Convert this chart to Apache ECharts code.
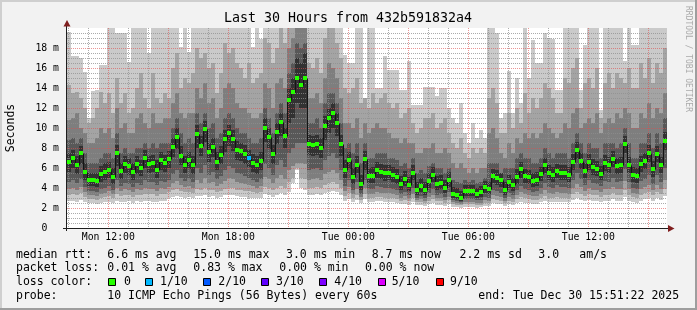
<!DOCTYPE html>
<html><head><meta charset="utf-8">
<script src="https://cdn.jsdelivr.net/npm/echarts@6/dist/echarts.min.js"></script>
<style>html,body{margin:0;padding:0;background:#f2f2f2}#c{width:697px;height:310px}</style>
</head><body><div id="c"></div>
<script>
// time axis: hours since Mon 00:00; one column = 12 minutes
const START_HOUR = 9.935;
const STEP_HOURS = 0.2;
const xTickHours = [12, 18, 24, 30, 36];
const xTickLabels = ['Mon 12:00', 'Mon 18:00', 'Tue 00:00', 'Tue 06:00', 'Tue 12:00'];

// median rtt per column (ms)
const median = [
6.6,7.0,6.3,7.5,5.6,4.8,4.8,4.7,5.4,5.6,
5.8,5.1,7.5,5.7,6.4,6.2,5.6,6.4,6.0,7.0,
6.4,6.5,5.8,6.8,6.5,6.9,8.1,9.1,7.2,6.3,
6.8,6.3,9.4,8.2,9.9,7.6,8.1,6.6,7.3,8.9,
9.5,8.9,7.8,7.7,7.4,7.0,6.5,6.3,6.7,10.0,
9.1,7.4,9.6,10.6,9.2,12.8,13.6,15.0,14.3,15.0,
8.4,8.3,8.4,8.0,10.2,11.0,11.5,10.5,8.4,5.8,
6.8,5.1,6.3,4.4,6.9,5.2,5.2,5.8,5.6,5.5,
5.5,5.3,5.1,4.4,4.9,4.3,5.5,3.8,4.2,3.8,
4.7,5.3,4.4,4.5,4.0,4.8,3.4,3.3,3.0,3.7,
3.7,3.7,3.4,3.6,4.1,3.9,5.2,5.0,4.8,3.8,
4.6,4.3,5.1,5.9,5.2,5.1,4.7,4.8,5.4,6.3,
5.5,5.3,5.7,5.5,5.5,5.3,6.6,7.8,6.7,5.7,
6.6,6.1,5.9,5.4,6.5,6.3,6.9,6.2,6.3,8.4,
6.3,5.3,5.2,6.4,6.7,7.5,5.9,7.4,6.3,8.7];

// lost pings (of 10) per column
const lossCount = [
0,0,0,0,0,0,0,0,0,0, 0,0,0,0,0,0,0,0,0,0, 0,0,0,0,0,0,0,0,0,0,
0,0,0,0,0,0,0,0,0,0, 0,0,0,0,0,1,0,0,0,0, 0,0,0,0,0,0,0,0,0,0,
0,0,0,0,0,0,0,0,0,0, 0,0,0,0,0,0,0,0,0,0, 0,0,0,0,0,0,0,0,0,0,
0,0,0,0,0,0,0,0,0,0, 0,0,0,0,0,0,0,0,0,0, 0,0,0,0,0,0,0,0,0,0,
0,0,0,0,0,0,0,0,0,0, 0,0,0,0,0,0,0,0,0,0, 0,0,0,0,0,0,0,0,0,0];

// sorted ping ranks (smoke): p1 lowest ... p10 highest
const p1 = [
2.7,2.7,2.6,2.8,2.6,2.5,2.5,2.4,2.5,2.6,2.6,2.5,2.7,2.6,2.6,2.7,2.5,2.7,2.6,2.7,2.7,2.6,2.6,2.7,2.7,
3.0,3.1,3.2,3.1,3.0,3.1,3.0,3.2,3.2,3.3,3.1,3.2,3.0,3.1,3.3,3.3,3.3,3.2,3.1,3.1,3.0,3.0,3.0,3.0,3.4,
3.3,3.1,3.3,3.5,3.3,3.6,4.5,5.8,4.0,3.8,3.3,3.3,3.4,3.3,3.5,3.6,3.7,3.6,3.3,2.7,2.9,2.6,2.8,2.5,2.9,
2.6,2.6,2.7,2.7,2.6,2.6,2.6,2.5,2.4,2.4,2.3,2.6,2.3,2.3,2.2,2.4,2.5,2.3,2.3,2.2,2.4,2.1,2.1,2.0,2.1,
2.1,2.1,2.0,2.1,2.2,2.2,2.5,2.4,2.4,2.2,2.4,2.3,2.5,2.6,2.5,2.5,2.4,2.4,2.6,2.7,2.6,2.6,2.6,2.6,2.6,
2.6,2.8,3.0,2.8,2.7,2.8,2.7,2.7,2.6,2.7,2.7,2.9,2.7,2.7,3.1,2.7,2.6,2.5,2.7,2.9,3.0,2.7,3.0,2.8,3.2];
const p2 = [
3.3,3.4,3.3,3.5,3.1,2.9,2.9,2.8,3.0,3.1,3.2,3.0,3.4,3.2,3.3,3.3,3.1,3.3,3.3,3.4,3.4,3.4,3.2,3.4,3.4,
3.6,3.8,3.9,3.7,3.6,3.6,3.5,3.9,3.8,4.0,3.8,3.8,3.6,3.7,3.9,4.0,4.0,3.8,3.8,3.7,3.7,3.6,3.5,3.6,4.1,
4.0,3.8,4.0,4.2,4.0,4.6,5.0,6.0,5.0,4.9,4.0,4.0,4.1,4.0,4.3,4.5,4.6,4.4,4.0,3.2,3.5,3.0,3.3,2.8,3.4,
3.0,3.0,3.1,3.1,3.0,3.0,3.0,2.9,2.7,2.8,2.7,3.0,2.6,2.6,2.5,2.7,2.9,2.7,2.7,2.5,2.8,2.4,2.3,2.3,2.4,
2.4,2.4,2.3,2.3,2.5,2.5,2.9,2.8,2.7,2.5,2.7,2.6,2.9,3.1,3.0,2.9,2.8,2.8,3.0,3.2,3.0,3.0,3.1,3.0,3.0,
3.0,3.4,3.6,3.4,3.2,3.4,3.3,3.3,3.1,3.3,3.3,3.5,3.3,3.3,3.8,3.3,3.1,3.0,3.3,3.5,3.6,3.3,3.6,3.4,3.9];
const p3 = [
3.9,4.0,3.8,4.1,3.6,3.3,3.3,3.2,3.4,3.5,3.7,3.4,4.0,3.7,3.9,3.8,3.6,3.9,3.8,4.0,3.9,3.9,3.7,4.0,3.9,
4.1,4.5,4.7,4.3,4.1,4.2,4.0,4.8,4.5,5.0,4.5,4.6,4.2,4.4,4.7,5.0,4.9,4.6,4.5,4.4,4.3,4.2,4.0,4.2,5.1,
4.9,4.5,5.0,5.3,4.9,5.8,6.2,6.5,6.5,6.4,4.8,4.9,5.0,4.8,5.4,5.6,5.8,5.5,4.8,3.7,4.1,3.4,3.9,3.1,4.0,
3.4,3.4,3.6,3.5,3.5,3.5,3.4,3.3,3.0,3.2,3.0,3.4,2.8,2.9,2.7,3.1,3.3,3.0,3.0,2.8,3.1,2.6,2.5,2.4,2.6,
2.6,2.6,2.5,2.5,2.8,2.7,3.3,3.2,3.1,2.7,3.1,2.9,3.3,3.6,3.4,3.3,3.2,3.2,3.4,3.8,3.5,3.4,3.6,3.5,3.5,
3.4,4.0,4.4,4.1,3.7,4.0,3.8,3.8,3.6,3.9,3.9,4.1,3.9,3.9,4.7,3.9,3.5,3.4,3.9,4.1,4.3,3.8,4.3,3.9,4.8];
const p4 = [
4.6,4.8,4.5,4.9,4.1,3.7,3.7,3.6,3.9,4.0,4.2,3.8,4.8,4.2,4.5,4.4,4.1,4.5,4.3,4.8,4.6,4.6,4.3,4.7,4.6,
4.8,5.4,5.8,5.0,4.7,4.9,4.6,6.0,5.5,6.3,5.3,5.6,4.9,5.2,5.8,6.2,6.0,5.5,5.4,5.2,5.0,4.8,4.6,4.9,6.4,
6.0,5.3,6.3,6.8,6.1,7.5,8.0,8.5,8.5,8.5,5.8,5.9,6.0,5.8,6.8,7.2,7.5,7.0,5.8,4.2,4.8,3.8,4.6,3.4,4.8,
3.9,3.9,4.2,4.1,4.0,4.0,3.9,3.8,3.4,3.6,3.3,4.0,3.0,3.2,3.0,3.5,3.9,3.3,3.4,3.1,3.6,2.8,2.7,2.6,2.9,
2.9,2.9,2.8,2.8,3.1,3.0,3.8,3.7,3.5,3.0,3.5,3.3,3.8,4.2,3.9,3.8,3.6,3.7,4.0,4.5,4.1,4.0,4.3,4.1,4.1,
4.0,4.8,5.5,4.9,4.3,4.8,4.5,4.4,4.2,4.7,4.6,5.0,4.6,4.7,5.9,4.6,4.0,3.9,4.7,4.9,5.3,4.4,5.3,4.6,6.0];
const p5 = [
5.6,6.0,5.4,6.4,4.8,4.2,4.2,4.1,4.6,4.8, 5.0,4.4,6.2,4.9,5.5,5.3,4.8,5.4,5.2,6.0,
5.5,5.6,5.0,5.8,5.6,6.0,7.1,7.9,6.3,5.5, 5.9,5.4,8.0,7.2,8.6,6.6,7.1,5.8,6.4,7.6,
8.2,7.7,6.8,6.7,6.4,6.1,5.6,5.4,5.8,8.6, 7.9,6.4,8.4,9.2,8.0,10.5,11.0,12.5,12.0,12.0,
7.3,7.2,7.3,7.0,8.8,9.5,10.0,9.2,7.2,5.0, 5.9,4.4,5.5,3.8,5.8,4.5,4.5,5.0,4.9,4.7,
4.8,4.6,4.4,3.8,4.2,3.7,4.8,3.3,3.6,3.3, 4.0,4.6,3.8,3.9,3.5,4.1,3.0,2.9,2.7,3.2,
3.2,3.2,3.0,3.1,3.5,3.4,4.5,4.3,4.1,3.3, 4.0,3.7,4.4,5.0,4.5,4.4,4.1,4.2,4.7,5.5,
4.8,4.6,5.0,4.8,4.8,4.6,5.8,6.9,5.9,5.0, 5.8,5.3,5.2,4.8,5.7,5.5,6.1,5.4,5.5,7.5,
5.5,4.6,4.5,5.6,5.9,6.6,5.1,6.6,5.5,7.8];
const p6 = [
7.5,7.8,7.2,8.2,6.5,5.5,5.5,5.5,6.2,6.5, 6.6,6.0,8.3,6.5,7.2,7.0,6.5,7.2,6.8,7.8,
7.2,7.3,6.8,7.6,7.3,7.7,9.0,10.0,8.2,7.2, 7.6,7.2,10.3,9.2,10.7,8.5,9.0,7.6,8.2,9.8,
10.3,9.8,8.7,8.5,8.3,7.8,7.4,7.2,7.6,11.0, 10.0,8.3,10.5,11.5,10.0,14.0,15.0,17.0,16.5,17.5,
9.3,9.2,9.3,9.0,11.2,12.0,12.5,11.5,9.3,6.8, 7.6,6.0,7.2,5.3,7.7,6.0,6.1,6.6,6.4,6.3,
6.3,6.1,5.9,5.2,5.7,5.1,6.3,4.6,5.0,4.6, 5.5,6.1,5.2,5.3,4.8,5.6,4.1,4.0,3.7,4.3,
4.3,4.3,4.0,4.2,4.7,4.6,5.9,5.8,5.5,4.6, 5.3,5.0,5.9,6.6,5.9,5.8,5.5,5.6,6.1,7.0,
6.3,6.1,6.4,6.3,6.3,6.1,7.4,8.6,7.5,6.5, 7.4,6.9,6.7,6.2,7.3,7.1,7.7,7.0,7.1,9.2,
7.1,6.1,6.0,7.2,7.5,8.3,6.7,8.2,7.1,9.6];
const p7 = [
8.8,9.0,8.5,9.0,7.5,6.5,6.5,6.5,7.0,7.5, 7.5,7.0,9.5,7.5,8.0,7.5,7.5,8.0,8.0,8.5,
8.0,8.5,8.0,8.5,8.5,8.5,10.0,11.0,9.5,8.5, 9.0,8.5,11.5,10.5,11.5,10.0,10.5,9.0,9.5,11.0,
11.5,11.0,10.0,9.5,9.5,9.0,8.5,8.5,9.0,12.0, 11.0,9.5,11.5,12.5,11.5,15.5,16.5,18.5,18.0,18.5,
10.5,10.5,11.0,10.0,12.5,13.5,13.5,12.5,10.5,8.0, 8.5,7.5,8.5,6.5,8.5,7.0,7.0,7.5,7.5,7.5,
7.0,7.0,6.8,6.2,6.5,6.0,7.0,5.5,5.8,5.5, 6.2,6.5,6.0,6.0,5.5,6.0,4.8,4.6,4.5,4.8,
4.6,4.8,4.5,4.6,5.0,6.5,6.5,6.5,5.5,6.0, 6.0,6.0,7.0,7.5,7.0,7.0,6.5,6.5,7.0,8.0,
7.5,7.0,7.5,7.5,7.5,7.0,8.5,9.5,8.5,7.5, 8.5,8.0,8.0,7.0,8.5,8.5,8.5,8.0,8.5,10.0,
8.5,7.0,7.0,8.5,8.5,9.5,8.0,9.5,8.5,11.0];
const p8 = [
10.8,11.0,11.5,10.0,9.5,8.5,8.5,9.0,10.0,9.5, 10.0,9.0,12.0,10.0,10.5,9.5,9.5,11.0,11.5,10.5,
10.0,11.5,10.5,10.5,11.0,11.0,12.5,13.5,11.5,11.0, 11.5,11.5,14.0,13.0,14.5,12.5,13.0,11.0,12.0,14.0,
14.5,14.0,12.5,12.0,12.0,11.5,11.0,11.0,11.5,14.5, 14.0,12.0,14.5,15.0,14.0,18.0,19.0,20,20,20,
13.0,13.0,13.5,12.5,15.0,16.5,16.0,15.0,13.0,10.5, 10.5,10.0,11.0,9.0,10.5,9.5,10.0,10.5,10.0,10.0,
9.5,9.0,9.0,8.5,9.0,8.5,8.5,7.5,7.5,8.0, 8.0,8.5,7.5,7.5,8.0,7.5,6.5,6.0,6.5,6.0,
5.5,6.0,5.5,6.0,6.0,9.5,10.0,9.0,7.5,7.0, 8.5,7.5,9.0,8.5,9.5,9.0,9.5,9.0,9.5,10.5,
10.0,9.5,9.0,9.5,10.5,10.0,11.5,12.0,10.0,10.5, 11.0,10.5,11.5,9.5,10.5,11.0,10.5,11.5,11.0,12.0,
11.5,10.0,10.0,11.5,11.0,12.5,11.0,12.0,11.5,13.5];
const p9 = [
14.3,13.5,13.6,13.0,12.0,10.5,11.0,12.0,13.6,12.5, 13.5,11.5,15.0,12.5,13.5,11.5,12.0,14.0,15.5,13.0,
12.0,15.5,13.0,12.5,13.5,13.0,16.0,17.5,14.0,15.0, 14.5,15.5,18.0,17.0,17.5,16.0,16.5,13.5,15.5,18.5,
17.5,18.0,16.5,16.0,15.0,16.5,14.5,15.0,15.5,19.0, 18.5,16.5,18.0,20,18.5,20,20,20,20,20,
16.5,16.0,17.0,15.5,19.0,20,20,18.5,17.0,14.0, 13.5,14.0,15.0,12.5,13.0,12.0,13.5,12.5,13.0,13.5,
12.5,12.0,12.5,11.0,11.5,12.0,10.5,9.5,10.0,11.0, 11.0,11.5,10.0,10.5,11.0,9.5,8.5,8.0,9.0,7.5,
7.0,8.0,7.5,8.0,7.5,13.0,14.0,12.5,9.5,9.5, 11.5,10.0,12.0,10.5,13.5,11.5,13.0,12.0,13.0,14.5,
14.0,13.0,11.5,11.5,15.0,14.5,16.0,17.0,12.0,14.5, 15.0,14.0,16.0,11.0,14.5,15.5,14.0,15.5,15.0,14.5,
16.0,14.0,14.0,16.5,15.0,17.0,14.5,16.5,15.5,18.0];
const p10 = [
19.6,17.2,17.2,17.0,15.6,11.0,13.7,13.8,16.3,16.3, 20,20,19.5,19.5,19.5,16.6,20,20,20,20,
17.5,20,20,20,20,20,20,20,18.1,20, 17.6,20,20,20,20,20,20,20,20,20,
20,20,20,20,20,20,18.1,20,18.9,20, 20,20,20,20,20,20,20,20,20,20,
20,20,20,20,20,20,20,20,20,17.3, 16.5,16.5,20,20,11.2,20,20,14.0,14.0,17.2,
15.8,15.8,15.8,13.8,13.8,16.7,12.3,12.3,12.3,14.1, 14.1,14.1,13.2,14.0,14.0,12.0,11.0,10.5,12.5,9.5,
8.5,10.5,9.0,9.8,9.0,20,20,19.5,11.0,11.5, 15.7,11.5,15.0,12.5,20,15.0,18.8,16.5,16.5,19.5,
19.0,18.9,13.8,13.8,20,20,20,20,13.8,18.3, 20,20,20,11.8,20,20,20,20,20,16.7,
20,18.3,18.3,20,20,20,20,20,20,20];

// legend
const lossLevels = ['0', '1/10', '2/10', '3/10', '4/10', '5/10', '9/10'];
const lossLevelCount = [0, 1, 2, 3, 4, 5, 9];
const lossColors = ['#26ff00', '#00b8ff', '#0059ff', '#5e00ff', '#7e00ff', '#dd00ff', '#ff0000'];
const smokeColors = ['#cacaca', '#a4a4a4', '#7e7e7e', '#585858', '#323232'];

const lowers = [p1, p2, p3, p4, p5];
const uppers = [p10, p9, p8, p7, p6];
const Y_MAX = 20;
function colX(i) { return START_HOUR + i * STEP_HOURS; }
function lossColor(n) {
  let c = lossColors[0];
  for (let k = 0; k < lossLevelCount.length; k++) if (n >= lossLevelCount[k]) c = lossColors[k];
  return c;
}

const FONT = '"DejaVu Sans Mono", monospace';
const GRID = 'rgba(143,143,143,0.75)';
const MGRID = 'rgba(222,79,79,0.6)';
const colData = median.map((m, i) => [colX(i), m, i]);

const smokeSeries = {
  type: 'custom', z: 1, silent: true, data: colData, clip: true,
  renderItem(params, api) {
    const i = params.dataIndex;
    const xa = Math.round(api.coord([colX(i), 0])[0]);
    const xb = Math.round(api.coord([colX(i + 1), 0])[0]);
    const ch = [];
    for (let k = 0; k < 5; k++) {
      const lo = Math.min(lowers[k][i], uppers[k][i]);
      const hi = Math.min(Math.max(lowers[k][i], uppers[k][i]), Y_MAX);
      const ya = Math.round(api.coord([0, hi])[1]);
      const yb = Math.round(api.coord([0, lo])[1]);
      ch.push({ type: 'rect', shape: { x: xa, y: ya, width: xb - xa, height: yb - ya }, style: { fill: smokeColors[k] } });
    }
    return { type: 'group', children: ch };
  }
};

const gridSeries = {
  type: 'custom', z: 2, silent: true, data: [[START_HOUR, 0]],
  renderItem(params, api) {
    const ch = [];
    const yB = api.coord([START_HOUR, 0])[1];
    const yT = api.coord([START_HOUR, Y_MAX])[1];
    const xL = api.coord([START_HOUR, 0])[0];
    const xR = api.coord([START_HOUR + 30, 0])[0];
    for (let h = Math.ceil(START_HOUR); h < START_HOUR + 30; h++) {
      const x = Math.round(api.coord([h, 0])[0]) + 0.5;
      const major = h % 3 === 0;
      ch.push({ type: 'line', shape: { x1: x, y1: yT, x2: x, y2: yB }, style: { stroke: major ? MGRID : GRID, lineWidth: 1, lineDash: [1, 1] } });
    }
    for (let v = 0.5; v < Y_MAX; v += 0.5) {
      const y = Math.round(api.coord([START_HOUR, v])[1]) + 0.5;
      const major = v % 2 === 0;
      ch.push({ type: 'line', shape: { x1: xL, y1: y, x2: xR, y2: y }, style: { stroke: major ? MGRID : GRID, lineWidth: 1, lineDash: [1, 1] } });
    }
    return { type: 'group', children: ch };
  }
};

const lineSeries = {
  type: 'custom', z: 3, silent: true, data: colData,
  renderItem(params, api) {
    const i = params.dataIndex;
    const xa = Math.round(api.coord([colX(i), 0])[0]);
    const xb = Math.round(api.coord([colX(i + 1), 0])[0]);
    const y = Math.round(api.coord([0, median[i]])[1]) + 0.5;
    const ch = [{ type: 'line', shape: { x1: xa, y1: y, x2: xb, y2: y }, style: { stroke: '#151515', lineWidth: 1 } }];
    if (i > 0) {
      const yp = Math.round(api.coord([0, median[i - 1]])[1]) + 0.5;
      ch.push({ type: 'line', shape: { x1: xa + 0.5, y1: yp, x2: xa + 0.5, y2: y }, style: { stroke: '#151515', lineWidth: 1 } });
    }
    return { type: 'group', children: ch };
  }
};

const MH = 0.17;
const markerSeries = {
  type: 'custom', z: 4, silent: true, data: colData,
  renderItem(params, api) {
    const i = params.dataIndex;
    const xa = Math.round(api.coord([colX(i), 0])[0]);
    const xb = Math.round(api.coord([colX(i + 1), 0])[0]);
    const ya = Math.round(api.coord([0, median[i] + MH])[1]);
    const yb = Math.round(api.coord([0, median[i] - MH])[1]);
    return { type: 'rect', shape: { x: xa, y: ya, width: xb - xa, height: Math.max(3, yb - ya) }, style: { fill: lossColor(lossCount[i]) } };
  }
};

function txt(x, y, s, extra) {
  return Object.assign({ type: 'text', x: x, y: y, z: 20, style: { text: s, font: '11.5px ' + FONT, fill: '#000', textAlign: 'left', textVerticalAlign: 'middle' } }, extra || {});
}

const statsRow1 = [[16, 'median rtt:'], [107.3, '6.6 ms avg'], [193.3, '15.0 ms max'], [286, '3.0 ms min'], [371.7, '8.7 ms now'], [459.5, '2.2 ms sd'], [538.3, '3.0'], [579.3, 'am/s']];
const statsRow2 = [[16, 'packet loss:'], [107.3, '0.01 % avg'], [193.3, '0.83 % max'], [279.3, '0.00 % min'], [365, '0.00 % now']];
const statsRow4 = [[16, 'probe:'], [107.3, '10 ICMP Echo Pings (56 Bytes) every 60s'], [478.3, 'end: Tue Dec 30 15:51:22 2025']];
const legendBoxX = [108.5, 145.5, 203.5, 261.5, 319.5, 378.5, 436.5];
const legendTextX = [124, 160, 218.3, 276, 334.3, 391.7, 450];

const graphics = [];
// frame
graphics.push({ type: 'rect', z: 20, shape: { x: 0, y: 0, width: 697, height: 2 }, style: { fill: '#cfcfcf' } });
graphics.push({ type: 'rect', z: 20, shape: { x: 0, y: 0, width: 2, height: 310 }, style: { fill: '#cfcfcf' } });
graphics.push({ type: 'rect', z: 20, shape: { x: 0, y: 308, width: 697, height: 2 }, style: { fill: '#9e9e9e' } });
graphics.push({ type: 'rect', z: 20, shape: { x: 695, y: 0, width: 2, height: 310 }, style: { fill: '#9e9e9e' } });
// title
graphics.push({ type: 'text', x: 348, y: 19, z: 20, style: { text: 'Last 30 Hours from 432b591832a4', font: '13.3px ' + FONT, fill: '#000', textAlign: 'center', textVerticalAlign: 'middle' } });
// y name
graphics.push({ type: 'text', x: 11, y: 128, rotation: Math.PI / 2, z: 20, style: { text: 'Seconds', font: '11.5px ' + FONT, fill: '#000', textAlign: 'center', textVerticalAlign: 'middle' } });
// zero label of the y axis (rrdtool aligns it with the digits of the other labels)
graphics.push({ type: 'text', x: 44.5, y: 228, z: 20, style: { text: '0', font: '9.8px ' + FONT, fill: '#000', textAlign: 'center', textVerticalAlign: 'middle' } });
// watermark
graphics.push({ type: 'text', x: 688, y: 59, rotation: -Math.PI / 2, z: 20, style: { text: 'RRDTOOL / TOBI OETIKER', font: '8px ' + FONT, fill: '#aaaaaa', textAlign: 'center', textVerticalAlign: 'middle' } });
// axes
graphics.push({ type: 'line', z: 15, shape: { x1: 63, y1: 228.5, x2: 670, y2: 228.5 }, style: { stroke: '#1f1f1f', lineWidth: 1 } });
graphics.push({ type: 'line', z: 15, shape: { x1: 66.5, y1: 231, x2: 66.5, y2: 24 }, style: { stroke: '#1f1f1f', lineWidth: 1 } });
graphics.push({ type: 'polygon', z: 16, shape: { points: [[63.5, 26.5], [70.5, 26.5], [67, 20]] }, style: { fill: '#801f1f' } });
graphics.push({ type: 'polygon', z: 16, shape: { points: [[668, 225], [668, 232], [674.5, 228.5]] }, style: { fill: '#801f1f' } });
// legend text rows
statsRow1.forEach(([x, s]) => graphics.push(txt(x, 254.7, s)));
statsRow2.forEach(([x, s]) => graphics.push(txt(x, 268.3, s)));
graphics.push(txt(16, 282.3, 'loss color:'));
lossLevels.forEach((s, k) => {
  graphics.push({ type: 'rect', z: 20, shape: { x: legendBoxX[k], y: 278.5, width: 7, height: 7 }, style: { fill: lossColors[k], stroke: '#000', lineWidth: 1 } });
  graphics.push(txt(legendTextX[k], 282.3, s));
});
statsRow4.forEach(([x, s]) => graphics.push(txt(x, 296, s)));

const chart = echarts.init(document.getElementById('c'), null, { renderer: 'canvas', width: 697, height: 310 });
chart.setOption({
  animation: false,
  backgroundColor: '#f2f2f2',
  grid: { left: 67, top: 28, width: 600, height: 200, show: true, backgroundColor: '#ffffff', borderWidth: 0 },
  xAxis: {
    type: 'value', min: START_HOUR, max: START_HOUR + 30,
    axisLine: { show: false }, axisTick: { show: false }, splitLine: { show: false },
    axisLabel: {
      customValues: xTickHours,
      formatter: v => { const k = xTickHours.indexOf(Math.round(v)); return k >= 0 ? xTickLabels[k] : ''; },
      fontFamily: 'DejaVu Sans Mono', fontSize: 9.8, color: '#000', margin: 4
    }
  },
  yAxis: {
    type: 'value', min: 0, max: Y_MAX, interval: 2,
    axisLine: { show: false }, axisTick: { show: false }, splitLine: { show: false },
    axisLabel: {
      formatter: v => (v === 0 || v >= Y_MAX) ? '' : v + ' m',
      fontFamily: 'DejaVu Sans Mono', fontSize: 9.8, color: '#000', margin: 8
    }
  },
  series: [smokeSeries, gridSeries, lineSeries, markerSeries],
  graphic: graphics
});
</script>
</body></html>
